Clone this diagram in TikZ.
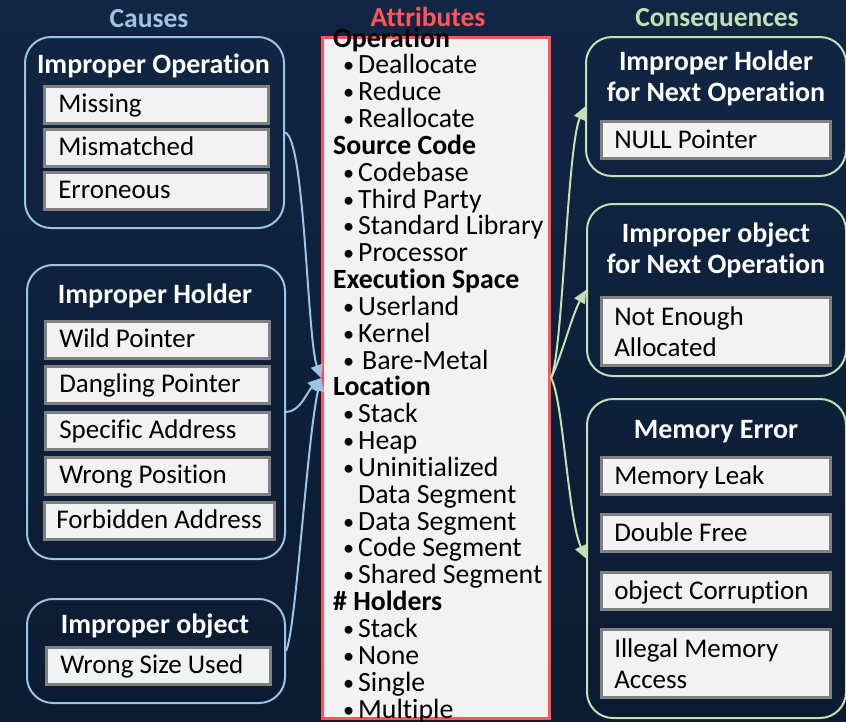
\documentclass[tikz,border=0pt]{standalone}
\usepackage{fontspec}
\setmainfont{Carlito}[Ligatures=NoCommon]
\usetikzlibrary{arrows.meta}
\definecolor{bgtop}{RGB}{16,38,68}
\definecolor{bgbot}{RGB}{11,27,49}
\definecolor{cblue}{RGB}{157,195,230}
\definecolor{cgreen}{RGB}{197,224,180}
\definecolor{cred}{RGB}{255,85,85}
\definecolor{itemfill}{RGB}{242,242,242}
\definecolor{itemgray}{RGB}{128,128,128}
\newcommand\itemfont{\fontsize{27pt}{31pt}\selectfont}
\newcommand\attrfont{\fontsize{27.8pt}{31pt}\selectfont}
\newcommand\titlefont{\fontsize{28pt}{31pt}\selectfont\bfseries}
\newcommand\hdrfont{\fontsize{27.5pt}{30pt}\selectfont\bfseries}
\newcommand\atH[1]{\textbf{#1}}
\newcommand\atB[1]{\hspace*{10pt}\makebox[15pt][l]{\raisebox{1pt}{\scalebox{0.8}{•}}}#1}
\newcommand\atC[1]{\hspace*{25pt}#1}
\begin{document}
\begin{tikzpicture}[x=1pt,y=-1pt,
  hdr/.style={font=\hdrfont, anchor=base, inner sep=0pt},
  gtitle/.style={font=\titlefont, text=white, anchor=base, inner sep=0pt},
  grpL/.style={draw=cblue, line width=2pt, rounded corners=26pt, anchor=north west, inner sep=0pt},
  grpR/.style={draw=cgreen, line width=2pt, rounded corners=26pt, anchor=north west, inner sep=0pt},
  item/.style={draw=itemgray, fill=itemfill, line width=2.5pt, font=\itemfont, text=black,
    inner xsep=14pt, inner ysep=0pt, text width=196pt, align=flush left, minimum height=37pt,
    text height=21pt, text depth=5pt, anchor=north west},
  itemR/.style={item, inner xsep=13pt, text width=203pt, text height=22pt, text depth=4pt},
  itemTwo/.style={draw=itemgray, fill=itemfill, line width=2.5pt, font=\itemfont, text=black,
    inner xsep=13pt, inner ysep=0pt, text width=203pt, align=flush left, minimum height=68pt, anchor=north west},
  attrline/.style={font=\attrfont, text=black, anchor=base west, inner sep=0pt},
  connL/.style={draw=cblue, line width=2pt, -{Triangle[length=13pt,width=12pt]}},
  connR/.style={draw=cgreen, line width=2pt, -{Triangle[length=13pt,width=12pt]}}
]
\useasboundingbox (0,0) rectangle (846,721);
\fill[top color=bgtop, bottom color=bgbot] (0,0) rectangle (846,721);

% headers
\node[hdr, text=cblue] (hcauses) at (149,27) {Causes};
\node[hdr, text=cred] (hattr) at (428,26) {Attributes};
\node[hdr, text=cgreen] (hcons) at (717,26) {Consequences};

% left groups
\node[grpL, minimum width=259pt, minimum height=191pt] (g1) at (24,36) {};
\node[gtitle] (g1t) at (153.5,73) {Improper Operation};
\node[item] (i11) at (43,85) {Missing};
\node[item] (i12) at (43,128) {Mismatched};
\node[item] (i13) at (43,171) {Erroneous};

\node[grpL, minimum width=258pt, minimum height=294pt] (g2) at (26,264) {};
\node[gtitle] (g2t) at (155,303) {Improper Holder};
\node[item] (i21) at (44,320) {Wild Pointer};
\node[item] (i22) at (44,365) {Dangling Pointer};
\node[item] (i23) at (44,411) {Specific Address};
\node[item] (i24) at (44,456) {Wrong Position};
\node[item, text width=206pt, inner xsep=12pt] (i25) at (43,501) {\mbox{Forbidden Address}};

\node[grpL, minimum width=258pt, minimum height=104pt] (g3) at (26,598) {};
\node[gtitle] (g3t) at (155,633) {Improper object};
\node[item] (i31) at (45,646) {Wrong Size Used};

% right groups
\node[grpR, minimum width=260pt, minimum height=139pt] (gA) at (585,36) {};
\node[gtitle] (gAt1) at (716,70) {Improper Holder};
\node[gtitle] (gAt2) at (716,101) {for Next Operation};
\node[itemR] (iA1) at (600,120) {NULL Pointer};

\node[grpR, minimum width=259pt, minimum height=172pt] (gB) at (586,203) {};
\node[gtitle] (gBt1) at (716,242) {Improper object};
\node[gtitle] (gBt2) at (716,273) {for Next Operation};
\node[itemTwo] (iB1) at (600,296) {Not Enough\\Allocated};

\node[grpR, minimum width=259pt, minimum height=319pt] (gC) at (586,398) {};
\node[gtitle] (gCt) at (716,438) {Memory Error};
\node[itemR] (iC1) at (600,456) {Memory Leak};
\node[itemR] (iC2) at (600,513) {Double Free};
\node[itemR] (iC3) at (600,571) {object Corruption};
\node[itemTwo] (iC4) at (600,628) {Illegal Memory\\Access};

% attributes
\node[draw=cred, fill=itemfill, line width=3pt, minimum width=227pt, minimum height=681pt,
  anchor=north west, inner sep=0pt] (attr) at (321,36) {};
\foreach \t [count=\i from 0] in {
  {\atH{Operation}}, {\atB{Deallocate}}, {\atB{Reduce}}, {\atB{Reallocate}},
  {\atH{Source Code}}, {\atB{Codebase}}, {\atB{Third Party}}, {\atB{Standard Library}}, {\atB{Processor}},
  {\atH{Execution Space}}, {\atB{Userland}}, {\atB{Kernel}}, {\atB{\hspace*{4pt}Bare-Metal}},
  {\atH{Location}}, {\atB{Stack}}, {\atB{Heap}}, {\atB{Uninitialized}}, {\atC{Data Segment}},
  {\atB{Data Segment}}, {\atB{Code Segment}}, {\atB{Shared Segment}},
  {\atH{\# Holders}}, {\atB{Stack}}, {\atB{None}}, {\atB{Single}}, {\atB{Multiple}}}
{
  \node[attrline] (at\i) at (333,{47+\i*26.84}) {\t};
}

% connectors
\draw[connL] (g1.east) .. controls +(20,5) and +(-14,-40) .. (attr.west);
\draw[connL] (g2.east) .. controls +(14,0) and +(-14,14) .. (attr.west);
\draw[connL] (g3.east) .. controls +(10,-20) and +(-14,60) .. (attr.west);
\draw[connR] (attr.east) .. controls +(12,-25) and +(-18,40) .. (gA.west);
\draw[connR] (attr.east) .. controls +(10,-20) and +(-14,25) .. (gB.west);
\draw[connR] (attr.east) .. controls +(12,20) and +(-18,-40) .. (gC.west);
\end{tikzpicture}
\end{document}
